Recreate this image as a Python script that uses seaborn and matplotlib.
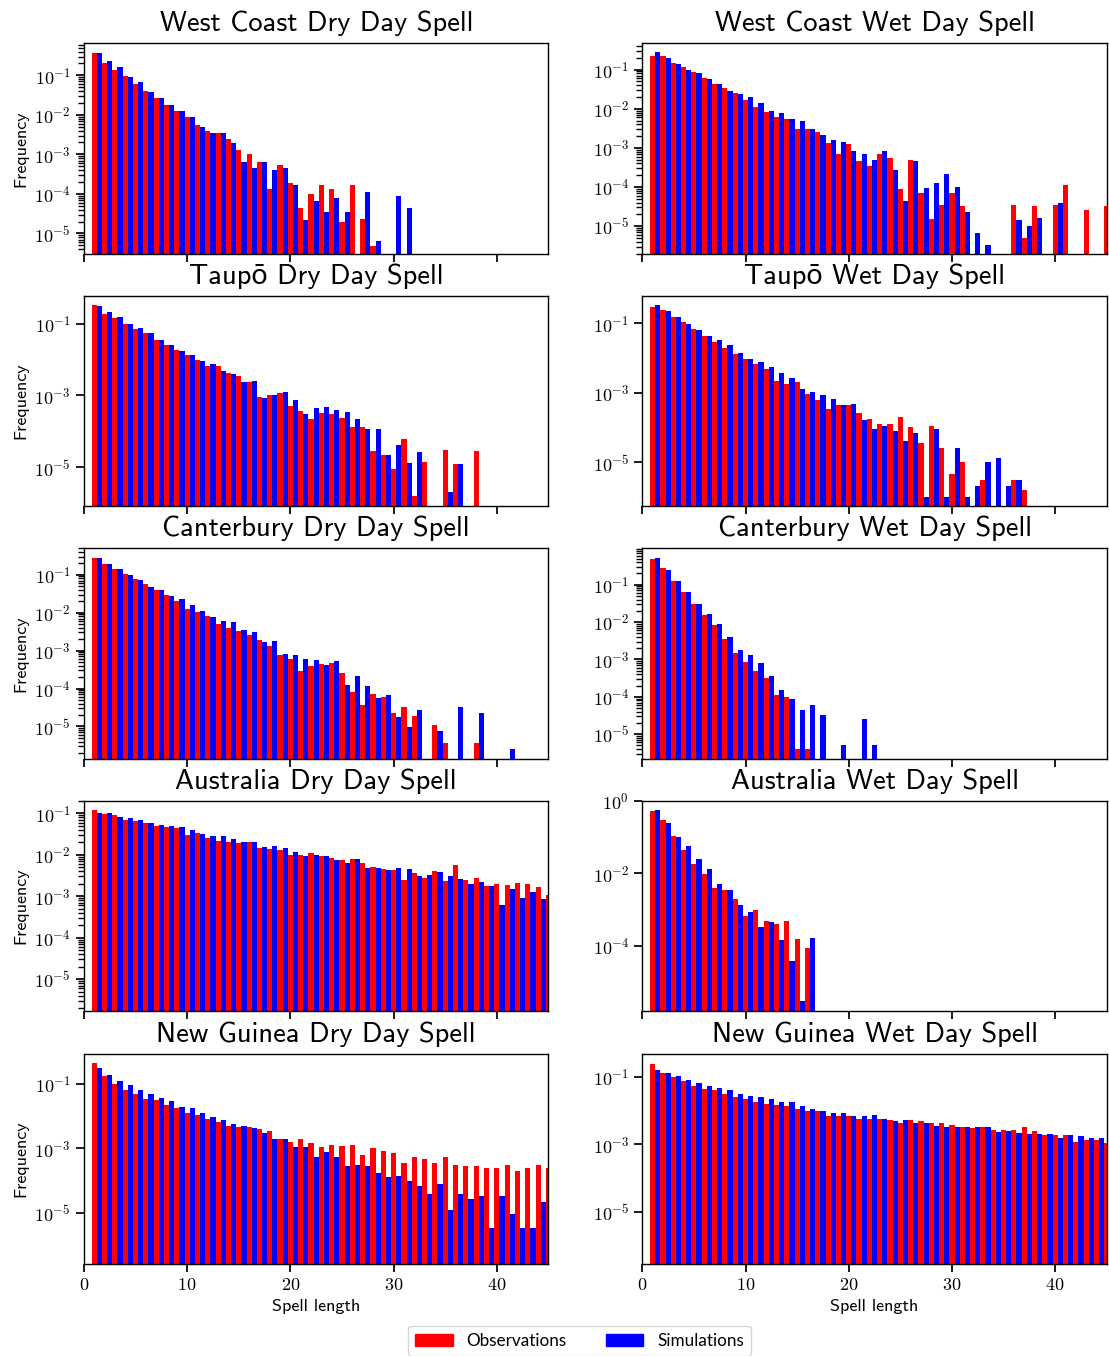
import matplotlib
matplotlib.use("Agg")
import matplotlib.pyplot as plt
from matplotlib.patches import Patch
from matplotlib.ticker import FuncFormatter
import numpy as np
import pandas as pd
import seaborn as sns

N_DAYS = 45
spell_length = np.arange(1, N_DAYS + 1)

# relative frequency of each spell length (1, 2, 3, ...); missing tail = 0
west_coast_dry_obs = [0.36, 0.21, 0.14, 0.094, 0.062, 0.041, 0.027, 0.018, 0.0128, 0.009,
                      0.0056, 0.004, 0.0035, 0.0025, 0.0013, 0.001, 0.00063, 0.00013, 0.00053, 0.00019,
                      4.3e-5, 1e-4, 1.66e-4, 1.3e-4, 2e-5, 1.7e-4, 2.3e-5, 4.9e-6]
west_coast_dry_sim = [0.36, 0.23, 0.16, 0.089, 0.066, 0.039, 0.027, 0.018, 0.0128, 0.009,
                      0.005, 0.0035, 0.0035, 0.0019, 0.00063, 0.00045, 0.00063, 0.0004, 0.00045, 0.000166,
                      2.2e-5, 6.7e-5, 3.5e-5, 8.1e-5, 3.5e-5, 0, 1.1e-4, 6.5e-6, 0, 9.1e-5,
                      4.3e-5]
west_coast_wet_obs = [0.22, 0.22, 0.15, 0.12, 0.085, 0.06, 0.042, 0.033, 0.026, 0.017,
                      0.0108, 0.0085, 0.006, 0.0056, 0.0031, 0.0031, 0.0026, 0.0013, 0.0007, 0.00123,
                      0.00045, 0.00035, 0.00068, 0.00054, 9e-5, 0.00048, 7.1e-5, 1.55e-5, 3.5e-5, 7.1e-5,
                      3.2e-5, 0, 0, 0, 0, 3.5e-5, 5e-6, 3.2e-5, 0, 3.5e-5,
                      1.15e-4, 0, 2.6e-5, 0, 3.2e-5]
west_coast_wet_sim = [0.28, 0.195, 0.14, 0.10, 0.08, 0.056, 0.042, 0.028, 0.024, 0.0195,
                      0.0137, 0.009, 0.008, 0.0056, 0.0048, 0.0031, 0.0022, 0.00155, 0.0014, 0.00085,
                      0.0007, 0.00048, 0.00085, 0.00028, 4.5e-5, 0.00045, 9.5e-5, 0.00013, 0.00021, 1e-4,
                      2.3e-5, 6.8e-6, 3.3e-6, 0, 0, 1.4e-5, 1e-5, 1.6e-5, 0, 4e-5]
taupo_dry_obs = [0.32, 0.19, 0.14, 0.096, 0.07, 0.054, 0.035, 0.025, 0.018, 0.0133,
                 0.0096, 0.0066, 0.0066, 0.0042, 0.0035, 0.0024, 0.00091, 0.00103, 0.00117, 0.00052,
                 0.00037, 0.00022, 0.00033, 0.00031, 0.00024, 0.000135, 0.000135, 2.9e-5, 2.2e-5, 9e-6,
                 6.3e-5, 1.55e-6, 1.45e-5, 0, 3.1e-5, 1.26e-5, 0, 2.9e-5]
taupo_dry_sim = [0.30, 0.205, 0.15, 0.10, 0.074, 0.054, 0.035, 0.025, 0.017, 0.0133,
                 0.009, 0.0075, 0.0048, 0.0039, 0.0024, 0.0025, 0.00085, 0.00103, 0.00125, 0.00075,
                 0.00031, 0.00045, 0.00048, 0.0004, 0.00035, 0.00022, 0.000118, 0.000118, 2.2e-5, 4.3e-5,
                 1.35e-5, 2.6e-5, 0, 0, 2.1e-6, 1.26e-5]
taupo_wet_obs = [0.29, 0.24, 0.15, 0.11, 0.069, 0.043, 0.029, 0.0195, 0.013, 0.0095,
                 0.0068, 0.0049, 0.0022, 0.0018, 0.0021, 0.00093, 0.00063, 0.00035, 0.00046, 0.00046,
                 0.00027, 0.000178, 0.000128, 0.000128, 0.000205, 0.000105, 3.5e-5, 0.000113, 2.6e-5, 4.7e-6,
                 1e-5, 0, 3.2e-6, 0, 0, 3.2e-6, 1.65e-6]
taupo_wet_sim = [0.34, 0.22, 0.15, 0.096, 0.064, 0.043, 0.033, 0.024, 0.014, 0.0095,
                 0.0078, 0.0056, 0.0037, 0.0027, 0.0013, 0.00107, 0.00087, 0.00068, 0.00046, 0.00049,
                 0.000167, 9.3e-5, 0.000113, 8.1e-5, 4.2e-5, 7.1e-5, 1e-6, 9.3e-5, 1e-6, 2.6e-5,
                 1e-6, 2.1e-6, 1.05e-5, 1.35e-5, 2.1e-6, 3.2e-6]
canterbury_dry_obs = [0.28, 0.195, 0.14, 0.106, 0.078, 0.058, 0.040, 0.030, 0.0205, 0.0126,
                      0.0105, 0.0083, 0.0051, 0.004, 0.0033, 0.0026, 0.0019, 0.0013, 0.00077, 0.0006,
                      0.00029, 0.0004, 0.00045, 0.00047, 0.00026, 8.1e-5, 3.6e-5, 7.1e-5, 6e-5, 2.25e-5,
                      3.2e-5, 1.87e-5, 0, 1.1e-5, 3.6e-6, 0, 0, 3.6e-6]
canterbury_dry_sim = [0.28, 0.195, 0.14, 0.1, 0.074, 0.048, 0.040, 0.028, 0.023, 0.016,
                      0.011, 0.0078, 0.0061, 0.0058, 0.0035, 0.0031, 0.0017, 0.0018, 0.0008, 0.00077,
                      0.0006, 0.00056, 0.00042, 0.00053, 0.000123, 0.000215, 0.000118, 5.6e-5, 6.7e-5, 1.8e-5,
                      9.6e-6, 2.7e-5, 0, 7.6e-6, 0, 3.2e-5, 0, 2.25e-5, 0, 0,
                      2.5e-6]
canterbury_wet_obs = [0.50, 0.285, 0.128, 0.065, 0.031, 0.0157, 0.0085, 0.0036, 0.0015, 0.00086,
                      0.00049, 0.00032, 0.000113, 0.0001, 4e-6, 4e-6]
canterbury_wet_sim = [0.53, 0.25, 0.128, 0.065, 0.031, 0.0167, 0.009, 0.004, 0.0018, 0.0013,
                      0.00081, 0.00036, 0.00015, 8.7e-5, 4.5e-5, 6e-5, 3.2e-5, 0, 5.1e-6, 0,
                      2.5e-5, 5.1e-6]
australia_dry_obs = [0.12, 0.096, 0.091, 0.069, 0.065, 0.058, 0.049, 0.047, 0.044, 0.030,
                     0.034, 0.025, 0.021, 0.0204, 0.0192, 0.0204, 0.0146, 0.0138, 0.013, 0.01,
                     0.01, 0.011, 0.0094, 0.0083, 0.0075, 0.0079, 0.0063, 0.005, 0.0045, 0.0043,
                     0.0025, 0.0036, 0.0028, 0.0041, 0.0023, 0.0057, 0.0025, 0.0028, 0.0018, 0.002,
                     0.0019, 0.0021, 0.002, 0.0017, 0.0011]
australia_dry_sim = [0.10, 0.10, 0.082, 0.077, 0.069, 0.058, 0.052, 0.049, 0.047, 0.040,
                     0.032, 0.028, 0.028, 0.024, 0.0204, 0.0204, 0.0154, 0.0163, 0.0146, 0.0117,
                     0.0094, 0.01, 0.0094, 0.0075, 0.0063, 0.0079, 0.0048, 0.0048, 0.0043, 0.0048,
                     0.0045, 0.0031, 0.0032, 0.0038, 0.0031, 0.0026, 0.002, 0.0022, 0.0018, 0.0006,
                     0.0015, 0.00091, 0.0013, 0.00085, 0.001]
australia_wet_obs = [0.52, 0.29, 0.105, 0.043, 0.0177, 0.0094, 0.0039, 0.0034, 0.002, 0.00065,
                     0.00095, 0.00047, 0.00039, 0.00047, 0.00015, 8.5e-5]
australia_wet_sim = [0.55, 0.24, 0.099, 0.056, 0.0245, 0.0129, 0.005, 0.0034, 0.0013, 0.00083,
                     0.00032, 0.00045, 0.00014, 3.7e-5, 2.9e-6, 0.00016]
new_guinea_dry_obs = [0.42, 0.177, 0.1, 0.065, 0.046, 0.034, 0.03, 0.0224, 0.017, 0.0127,
                      0.0103, 0.0083, 0.0067, 0.005, 0.0044, 0.0044, 0.0038, 0.0033, 0.0019, 0.0016,
                      0.0019, 0.0014, 0.0011, 0.0013, 0.0012, 0.0013, 0.00063, 0.001, 0.0008, 0.00069,
                      0.00036, 0.00055, 0.00045, 0.00036, 0.00055, 0.00031, 0.00029, 0.00029, 0.00024, 0.00024,
                      0.0003, 0.0002, 0.00025, 0.0003, 0.00025]
new_guinea_dry_sim = [0.31, 0.19, 0.124, 0.093, 0.065, 0.046, 0.037, 0.028, 0.0195, 0.017,
                      0.0127, 0.0095, 0.0072, 0.0058, 0.0047, 0.0041, 0.003, 0.0019, 0.0019, 0.0011,
                      0.0011, 0.00055, 0.00074, 0.00055, 0.00029, 0.0003, 0.00029, 0.000165, 0.000133, 0.00014,
                      0.0001, 7e-5, 3.7e-5, 7.6e-5, 1.26e-5, 3.7e-5, 2.6e-5, 3.4e-5, 3.5e-6, 3.4e-5,
                      8.9e-6, 3.5e-6, 3.5e-6, 2.1e-5]
new_guinea_wet_obs = [0.24, 0.13, 0.1, 0.076, 0.054, 0.044, 0.039, 0.031, 0.024, 0.022,
                      0.018, 0.0159, 0.0148, 0.0138, 0.0112, 0.0098, 0.0098, 0.007, 0.007, 0.007,
                      0.0057, 0.0057, 0.0057, 0.0053, 0.0043, 0.005, 0.0047, 0.0043, 0.0041, 0.0038,
                      0.0031, 0.0029, 0.0031, 0.0027, 0.0027, 0.0027, 0.0031, 0.0025, 0.0019, 0.0019,
                      0.0019, 0.00118, 0.00135, 0.00135, 0.00105]
new_guinea_wet_sim = [0.16, 0.13, 0.107, 0.081, 0.066, 0.054, 0.047, 0.041, 0.031, 0.027,
                      0.024, 0.021, 0.018, 0.018, 0.0138, 0.0112, 0.0098, 0.0086, 0.0086, 0.007,
                      0.007, 0.0075, 0.0057, 0.0047, 0.005, 0.0043, 0.0041, 0.0035, 0.0031, 0.0033,
                      0.0031, 0.0031, 0.0031, 0.0023, 0.0025, 0.0022, 0.002, 0.002, 0.002, 0.00155,
                      0.0018, 0.0017, 0.00155, 0.00155]

regions = ["West Coast", "Taupō", "Canterbury", "Australia", "New Guinea"]
series = {
    ("West Coast", "Dry"): (west_coast_dry_obs, west_coast_dry_sim),
    ("West Coast", "Wet"): (west_coast_wet_obs, west_coast_wet_sim),
    ("Taupō", "Dry"): (taupo_dry_obs, taupo_dry_sim),
    ("Taupō", "Wet"): (taupo_wet_obs, taupo_wet_sim),
    ("Canterbury", "Dry"): (canterbury_dry_obs, canterbury_dry_sim),
    ("Canterbury", "Wet"): (canterbury_wet_obs, canterbury_wet_sim),
    ("Australia", "Dry"): (australia_dry_obs, australia_dry_sim),
    ("Australia", "Wet"): (australia_wet_obs, australia_wet_sim),
    ("New Guinea", "Dry"): (new_guinea_dry_obs, new_guinea_dry_sim),
    ("New Guinea", "Wet"): (new_guinea_wet_obs, new_guinea_wet_sim),
}
# y range of every panel as seen in the figure
ylims = {
    ("West Coast", "Dry"): (3.1e-6, 0.66),
    ("West Coast", "Wet"): (2.0e-6, 0.48),
    ("Taupō", "Dry"): (8.3e-7, 0.60),
    ("Taupō", "Wet"): (5.5e-7, 0.63),
    ("Canterbury", "Dry"): (1.4e-6, 0.50),
    ("Canterbury", "Wet"): (2.2e-6, 0.94),
    ("Australia", "Dry"): (1.66e-6, 0.20),
    ("Australia", "Wet"): (1.5e-6, 1.01),
    ("New Guinea", "Dry"): (2.6e-7, 0.85),
    ("New Guinea", "Wet"): (2.8e-7, 0.48),
}

colors = {"Observations": "red", "Simulations": "blue"}


def pad(values):
    out = np.zeros(N_DAYS)
    out[: len(values)] = values
    return out


def long_frame(obs, sim):
    return pd.concat(
        [
            pd.DataFrame({"length": spell_length, "freq": pad(obs), "source": "Observations"}),
            pd.DataFrame({"length": spell_length, "freq": pad(sim), "source": "Simulations"}),
        ],
        ignore_index=True,
    )


sns.set_theme(style="ticks")
plt.rcParams.update(
    {
        "axes.edgecolor": "black",
        "axes.linewidth": 1.0,
        "xtick.color": "black",
        "ytick.color": "black",
        "text.color": "black",
        "axes.labelcolor": "black",
        "mathtext.fontset": "cm",
        "mathtext.default": "rm",
        "xtick.labelsize": 13,
        "ytick.labelsize": 13,
        "axes.labelsize": 13,
        "axes.titlesize": 20.5,
        "axes.titlepad": 8.5,
    }
)
plt.rcParams["font.family"] = ["cmss10", "Lato"]

log_fmt = FuncFormatter(lambda v, pos: rf"$10^{{{int(round(np.log10(v)))}}}$")
lin_fmt = FuncFormatter(lambda v, pos: rf"${v:g}$")

fig, axes = plt.subplots(5, 2, sharex=True, figsize=(11.09, 13.56), dpi=100)
fig.subplots_adjust(left=0.0757, right=0.998, top=0.9683, bottom=0.0678, wspace=0.202, hspace=0.2)

for row, region in enumerate(regions):
    for col, kind in enumerate(["Dry", "Wet"]):
        ax = axes[row, col]
        obs, sim = series[(region, kind)]
        df = long_frame(obs, sim)
        sns.histplot(
            data=df, x="length", weights="freq", hue="source",
            hue_order=["Observations", "Simulations"], palette=colors,
            binwidth=1, binrange=(0.75, N_DAYS + 0.75), multiple="dodge", shrink=1,
            alpha=1, linewidth=0, legend=False, ax=ax,
        )
        ax.set_yscale("log")
        ax.set_ylim(*ylims[(region, kind)])
        ax.set_xlim(0, 45)
        ax.yaxis.set_major_formatter(log_fmt)
        ax.xaxis.set_major_formatter(lin_fmt)
        ax.set_title(f"{region} {kind} Day Spell")
        ax.set_ylabel("Frequency" if col == 0 else "")
        ax.set_xlabel("Spell length" if row == len(regions) - 1 else "")

handles = [Patch(color=colors[k], label=k) for k in ["Observations", "Simulations"]]
fig.legend(
    handles=handles, loc="upper center", bbox_to_anchor=(579.5 / 1109, 1 - 1326 / 1356),
    borderaxespad=0, ncol=2, prop={"family": "Lato", "size": 12.3},
    handlelength=2.2, columnspacing=2.3, frameon=True, fancybox=True,
)

fig.savefig("out.png", dpi=100)
